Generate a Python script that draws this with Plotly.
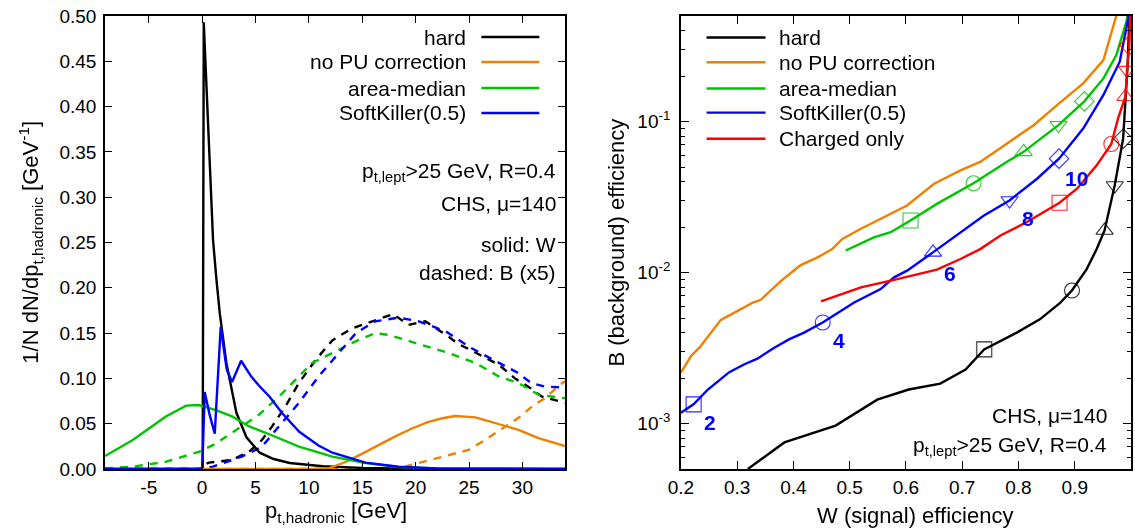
import math
import plotly.graph_objects as go

# ---------------- left panel: 1/N dN/dpt (W solid, B x5 dashed) ----------------
hard_w_x = [-9.1, -0.02, 0.05, 0.15, 1.02, 1.34, 1.65, 2.27, 3.21, 4.15, 5.39, 6.7, 8.2, 11.3, 15, 20, 34]
hard_w_y = [0, 0, 0, 0.493, 0.253, 0.209, 0.172, 0.117, 0.062, 0.035, 0.018, 0.011, 0.0066, 0.003, 0.0012, 0.0003, 0]

nopu_w_x = [-9.1, 10.3, 11.9, 13.5, 15.0, 16.6, 18.1, 19.7, 21.2, 22.5, 23.7, 25.6, 28.0, 29.7, 31.5, 34.0]
nopu_w_y = [0, 0, 0.001, 0.008, 0.017, 0.027, 0.036, 0.045, 0.052, 0.056, 0.0585, 0.057, 0.0486, 0.043, 0.034, 0.0254]

area_w_x = [-9.1, -6.5, -4.95, -3.4, -1.5, -0.3, 1.28, 2.8, 4.4, 5.95, 9.07, 12.2, 15.3, 18.4, 22, 34]
area_w_y = [0.0143, 0.032, 0.045, 0.058, 0.070, 0.0706, 0.065, 0.058, 0.047, 0.040, 0.0246, 0.0136, 0.0066, 0.0022, 0.0005, 0]

sk_w_x = [-9.1, -0.05, 0.02, 0.24, 0.7, 1.18, 1.74, 2.3, 2.8, 3.65, 4.6, 5.4, 6.3, 7.5, 9.1, 10.9, 12.2, 15.3, 18.4, 22, 34]
sk_w_y = [0, 0, 0.003, 0.085, 0.06, 0.039, 0.157, 0.11, 0.096, 0.1195, 0.102, 0.091, 0.080, 0.0615, 0.041, 0.026, 0.018, 0.007, 0.0025, 0.0005, 0]

hard_b_x = [-9.1, -0.05, 0.0, 0.65, 2.8, 4.4, 5.6, 6.55, 7.8, 9.07, 10.6, 12.2, 14.0, 16.2, 17.9, 19.3, 20.9, 23.1, 24.0, 25.2, 27.8, 29.3, 30.8, 31.8, 34]
hard_b_y = [0, 0, 0.004, 0.007, 0.010, 0.019, 0.032, 0.047, 0.069, 0.095, 0.12, 0.142, 0.155, 0.164, 0.171, 0.159, 0.163, 0.146, 0.138, 0.131, 0.115, 0.100, 0.089, 0.080, 0.073]

nopu_b_x = [-9.1, 18.5, 19.3, 22.1, 24.95, 26.5, 28.5, 29.7, 30.9, 32.2, 33.5, 34]
nopu_b_y = [0, 0, 0.0037, 0.012, 0.021, 0.032, 0.048, 0.057, 0.069, 0.079, 0.093, 0.097]

area_b_x = [-9.1, -6.5, -3.4, -0.3, 1.28, 3.46, 5.33, 7.2, 9.07, 10.3, 12.2, 14.0, 16.2, 17.5, 20, 23.1, 25.6, 27.8, 29.6, 31.5, 34]
area_b_y = [0.0005, 0.0026, 0.008, 0.019, 0.028, 0.045, 0.06, 0.08, 0.102, 0.117, 0.128, 0.139, 0.15, 0.148, 0.139, 0.128, 0.117, 0.102, 0.095, 0.082, 0.078]

sk_b_x = [-9.1, -0.05, 0.0, 1.0, 3.7, 5.6, 6.9, 9.07, 10.9, 12.5, 14.4, 16.2, 18.4, 20.3, 22.8, 25.2, 27.8, 29.6, 30.8, 32.1, 34]
sk_b_y = [0, 0, 0.001, 0.0026, 0.0136, 0.0246, 0.043, 0.073, 0.102, 0.124, 0.15, 0.163, 0.167, 0.163, 0.152, 0.1335, 0.117, 0.106, 0.095, 0.091, 0.09]

left_xticks = [-5, 0, 5, 10, 15, 20, 25, 30]
left_xtick_text = ["-5", "0", "5", "10", "15", "20", "25", "30"]
left_yticks = [0, 0.05, 0.10, 0.15, 0.20, 0.25, 0.30, 0.35, 0.40, 0.45, 0.50]

# ---------------- right panel: B efficiency vs W efficiency ----------------
roc_hard_x = [0.319, 0.384, 0.475, 0.549, 0.605, 0.661, 0.706, 0.739, 0.797, 0.838, 0.874, 0.895, 0.921, 0.939, 0.953, 0.971, 0.986, 0.994, 0.998]
roc_hard_y = [5.0e-4, 7.5e-4, 9.7e-4, 1.44e-3, 1.68e-3, 1.84e-3, 2.28e-3, 3.1e-3, 4.0e-3, 4.9e-3, 6.3e-3, 7.6e-3, 0.0105, 0.0143, 0.019, 0.0377, 0.077, 0.237, 0.6]

roc_nopu_x = [0.2, 0.218, 0.233, 0.271, 0.301, 0.328, 0.342, 0.378, 0.413, 0.443, 0.469, 0.487, 0.52, 0.561, 0.602, 0.65, 0.697, 0.732, 0.791, 0.827, 0.868, 0.915, 0.951, 0.977]
roc_nopu_y = [2.17e-3, 2.8e-3, 3.18e-3, 4.86e-3, 5.57e-3, 6.33e-3, 6.6e-3, 8.8e-3, 0.0112, 0.0126, 0.0143, 0.0167, 0.0195, 0.0233, 0.0278, 0.0387, 0.0475, 0.054, 0.077, 0.0946, 0.128, 0.179, 0.255, 0.55]

roc_area_x = [0.493, 0.543, 0.573, 0.608, 0.655, 0.72, 0.779, 0.809, 0.871, 0.917, 0.951, 0.974, 0.992, 0.997]
roc_area_y = [0.014, 0.0171, 0.0185, 0.0221, 0.0285, 0.039, 0.054, 0.063, 0.0946, 0.136, 0.193, 0.276, 0.46, 0.6]

roc_sk_x = [0.2, 0.2225, 0.248, 0.286, 0.313, 0.336, 0.366, 0.393, 0.419, 0.452, 0.508, 0.555, 0.579, 0.602, 0.648, 0.697, 0.738, 0.784, 0.833, 0.872, 0.915, 0.951, 0.98, 0.995, 0.998]
roc_sk_y = [1.18e-3, 1.34e-3, 1.68e-3, 2.19e-3, 2.47e-3, 2.69e-3, 3.18e-3, 3.62e-3, 4.0e-3, 4.67e-3, 6.34e-3, 7.77e-3, 9.29e-3, 0.0103, 0.0136, 0.0185, 0.0238, 0.030, 0.0418, 0.0568, 0.0898, 0.15, 0.249, 0.48, 0.6]

roc_chg_x = [0.449, 0.52, 0.579, 0.655, 0.697, 0.732, 0.768, 0.815, 0.873, 0.904, 0.939, 0.965, 0.977, 0.99, 0.993, 0.997, 0.999]
roc_chg_y = [6.44e-3, 7.98e-3, 8.95e-3, 0.01045, 0.0123, 0.0143, 0.0176, 0.0216, 0.029, 0.0359, 0.0513, 0.071, 0.105, 0.146, 0.219, 0.32, 0.6]

# markers at the pt cut values 2, 4, 6, 8, 10 GeV
cut_labels = ["2", "4", "6", "8", "10"]
cut_symbols = ["square-open", "circle-open", "triangle-up-open", "triangle-down-open", "diamond-open"]
mk_hard_x = [0.739, 0.895, 0.953, 0.971, 0.986]
mk_hard_y = [3.1e-3, 7.6e-3, 0.019, 0.0377, 0.077]
mk_area_x = [0.608, 0.72, 0.809, 0.871, 0.917]
mk_area_y = [0.0221, 0.039, 0.063, 0.0946, 0.136]
mk_sk_x = [0.2225, 0.452, 0.648, 0.784, 0.872]
mk_sk_y = [1.34e-3, 4.67e-3, 0.0136, 0.030, 0.0568]
mk_chg_x = [0.873, 0.965, 0.99, 0.993, 0.997]
mk_chg_y = [0.029, 0.071, 0.146, 0.219, 0.32]

right_xticks = [0.2, 0.3, 0.4, 0.5, 0.6, 0.7, 0.8, 0.9, 1.0]
right_xtick_text = ["0.2", "0.3", "0.4", "0.5", "0.6", "0.7", "0.8", "0.9", "1"]
right_yticks = [1e-3, 1e-2, 1e-1]
right_ytick_text = ["10<sup>-3</sup>", "10<sup>-2</sup>", "10<sup>-1</sup>"]
right_yminor = [m * 10.0 ** e for e in (-4, -3, -2, -1) for m in range(2, 10) if 5e-4 <= m * 10.0 ** e <= 0.5]

# ---------------- styling ----------------
FONT = "Liberation Sans, Arial, Helvetica, sans-serif"
BLACK = "#000000"
ORANGE = "#ef8000"
GREEN = "#00c400"
BLUE = "#0000ff"
RED = "#ff0000"
DASH = "8px,7px"
LW = 2.4
TXT = 21

fig = go.Figure()


def add_line(x, y, color, xa, ya, dash="solid", width=LW):
    fig.add_trace(go.Scatter(x=x, y=y, mode="lines", xaxis=xa, yaxis=ya,
                             line=dict(color=color, width=width, dash=dash),
                             showlegend=False, hoverinfo="skip"))


def add_markers(x, y, color):
    fig.add_trace(go.Scatter(x=x, y=y, mode="markers", xaxis="x2", yaxis="y2",
                             marker=dict(symbol=cut_symbols, size=15, color=color,
                                         line=dict(color=color, width=1.1)),
                             opacity=0.85, showlegend=False, hoverinfo="skip"))


# left panel (dashed B first, solid W on top)
add_line(hard_b_x, hard_b_y, BLACK, "x", "y", DASH)
add_line(nopu_b_x, nopu_b_y, ORANGE, "x", "y", DASH)
add_line(area_b_x, area_b_y, GREEN, "x", "y", DASH)
add_line(sk_b_x, sk_b_y, BLUE, "x", "y", DASH)
add_line(hard_w_x, hard_w_y, BLACK, "x", "y")
add_line(nopu_w_x, nopu_w_y, ORANGE, "x", "y")
add_line(area_w_x, area_w_y, GREEN, "x", "y")
add_line(sk_w_x, sk_w_y, BLUE, "x", "y")

# right panel
add_line(roc_hard_x, roc_hard_y, BLACK, "x2", "y2")
add_line(roc_nopu_x, roc_nopu_y, ORANGE, "x2", "y2")
add_line(roc_area_x, roc_area_y, GREEN, "x2", "y2")
add_line(roc_sk_x, roc_sk_y, BLUE, "x2", "y2")
add_line(roc_chg_x, roc_chg_y, RED, "x2", "y2")
add_markers(mk_hard_x, mk_hard_y, BLACK)
add_markers(mk_area_x, mk_area_y, GREEN)
add_markers(mk_sk_x, mk_sk_y, BLUE)
add_markers(mk_chg_x, mk_chg_y, RED)

annotations = []
shapes = []

# left legend (text right, line sample to the right)
left_legend = [("hard", BLACK), ("no PU correction", ORANGE), ("area-median", GREEN), ("SoftKiller(0.5)", BLUE)]
left_rows = [0.9536, 0.8985, 0.841, 0.786]
for (name, col), yy in zip(left_legend, left_rows):
    annotations.append(dict(xref="x domain", yref="y domain", x=0.788, y=yy, text=name,
                            xanchor="right", yanchor="middle", showarrow=False,
                            font=dict(size=TXT, family=FONT, color="black")))
    shapes.append(dict(type="line", xref="x domain", yref="y domain", x0=0.818, x1=0.944,
                       y0=yy, y1=yy, line=dict(color=col, width=LW)))

left_notes = [("p<sub>t,lept</sub>>25 GeV, R=0.4", 0.655), ("CHS, μ=140", 0.587),
              ("solid: W", 0.4945), ("dashed: B (x5)", 0.4327)]
for txt, yy in left_notes:
    annotations.append(dict(xref="x domain", yref="y domain", x=0.984, y=yy, text=txt,
                            xanchor="right", yanchor="middle", showarrow=False,
                            font=dict(size=TXT, family=FONT, color="black")))

# right legend (line sample left, text right)
right_legend = [("hard", BLACK), ("no PU correction", ORANGE), ("area-median", GREEN),
                ("SoftKiller(0.5)", BLUE), ("Charged only", RED)]
right_rows = [0.9525, 0.898, 0.840, 0.7867, 0.729]
for (name, col), yy in zip(right_legend, right_rows):
    annotations.append(dict(xref="x2 domain", yref="y2 domain", x=0.213, y=yy, text=name,
                            xanchor="left", yanchor="middle", showarrow=False,
                            font=dict(size=TXT, family=FONT, color="black")))
    shapes.append(dict(type="line", xref="x2 domain", yref="y2 domain", x0=0.057, x1=0.188,
                       y0=yy, y1=yy, line=dict(color=col, width=LW)))

right_notes = [("CHS, μ=140", 0.117), ("p<sub>t,lept</sub>>25 GeV, R=0.4", 0.05)]
for txt, yy in right_notes:
    annotations.append(dict(xref="x2 domain", yref="y2 domain", x=0.951, y=yy, text=txt,
                            xanchor="right", yanchor="middle", showarrow=False,
                            font=dict(size=TXT, family=FONT, color="black")))

# cut-value labels on the SoftKiller curve
cut_label_pos = [(0.252, -2.995), (0.481, -2.452), (0.678, -2.003), (0.817, -1.645), (0.903, -1.374)]
for lab, (lx, ly) in zip(cut_labels, cut_label_pos):
    annotations.append(dict(xref="x2", yref="y2", x=lx, y=ly, text="<b>" + lab + "</b>",
                            xanchor="center", yanchor="middle", showarrow=False,
                            font=dict(size=21, family=FONT, color=BLUE)))

# axis titles
annotations += [
    dict(xref="paper", yref="paper", x=(336 - 105) / 1028, y=(469 - 512) / 453,
         text="p<sub>t,hadronic</sub> [GeV]", showarrow=False, xanchor="center", yanchor="middle",
         font=dict(size=22, family=FONT, color="black")),
    dict(xref="paper", yref="paper", x=(30 - 105) / 1028, y=0.5, textangle=-90,
         text="1/N dN/dp<sub>t,hadronic</sub> [GeV<sup>-1</sup>]", showarrow=False,
         xanchor="center", yanchor="middle", font=dict(size=22, family=FONT, color="black")),
    dict(xref="paper", yref="paper", x=(917 - 105) / 1028, y=(469 - 515) / 453,
         text="W (signal) efficiency", showarrow=False, xanchor="center", yanchor="middle",
         font=dict(size=22, family=FONT, color="black")),
    dict(xref="paper", yref="paper", x=(617 - 105) / 1028, y=0.5, textangle=-90,
         text="B (background) efficiency", showarrow=False, xanchor="center", yanchor="middle",
         font=dict(size=22, family=FONT, color="black")),
]

axis_common = dict(ticks="inside", tickcolor="black", tickwidth=1, showline=True, linecolor="black",
                   linewidth=1.5, mirror="ticks", showgrid=False, zeroline=False,
                   tickfont=dict(size=19, family=FONT, color="black"))

fig.update_layout(
    width=1135, height=530,
    margin=dict(l=105, r=2, t=16, b=61),
    paper_bgcolor="white", plot_bgcolor="white",
    font=dict(family=FONT, size=19, color="black"),
    showlegend=False,
    xaxis=dict(domain=[0, (566 - 105) / 1028], range=[-9.1, 34], tickmode="array",
               tickvals=left_xticks, ticktext=left_xtick_text, ticklen=7, anchor="y", **axis_common),
    yaxis=dict(domain=[0, 1], range=[0, 0.5], tickmode="array", tickvals=left_yticks,
               tickformat=".2f", ticklen=7, anchor="x", ticklabelstandoff=3, **axis_common),
    xaxis2=dict(domain=[(682 - 105) / 1028, 1], range=[0.2, 1.0], tickmode="array",
                tickvals=right_xticks, ticktext=right_xtick_text, ticklen=8, anchor="y2", **axis_common),
    yaxis2=dict(domain=[0, 1], type="log", range=[math.log10(5e-4), math.log10(0.5)],
                tickmode="array", tickvals=right_yticks, ticktext=right_ytick_text, ticklen=8,
                anchor="x2", ticklabelstandoff=5,
                minor=dict(tickmode="array", tickvals=right_yminor, ticks="inside", ticklen=4,
                           tickcolor="black", tickwidth=1, showgrid=False),
                **axis_common),
    annotations=annotations,
    shapes=shapes,
)

fig.write_html("out.html", config={"displayModeBar": False},
               post_script="document.body.style.margin='0px';document.body.style.overflow='hidden';")
